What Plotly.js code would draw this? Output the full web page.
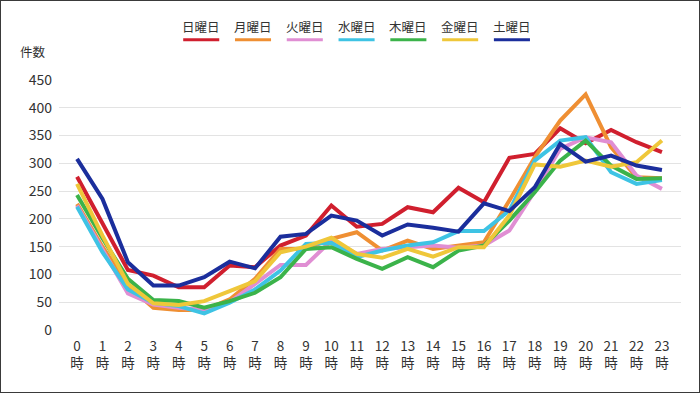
<!DOCTYPE html>
<html><head><meta charset="utf-8">
<script src="https://cdn.plot.ly/plotly-3.0.1.min.js"></script>
<style>
html,body{margin:0;padding:0;background:#fff;}
#chart{width:700px;height:393px;box-sizing:border-box;border:1px solid #3a3a3a;}
</style></head>
<body><div id="chart"></div>
<script>
const hours = ["0","1","2","3","4","5","6","7","8","9","10","11","12","13","14","15","16","17","18","19","20","21","22","23"];
const hourLabels = hours.map(h => h + "<br>時");
const days = ["日曜日","月曜日","火曜日","水曜日","木曜日","金曜日","土曜日"];
const colors = ["#d01f2e","#ef8f33","#e08ed3","#3ec3e4","#3bb34a","#efc73a","#1b2e9c"];
const sunday    = [276,192,108,98,77,77,116,113,152,170,224,186,191,221,212,256,230,310,317,363,336,360,338,320];
const monday    = [227,150,80,40,36,36,55,92,146,146,164,176,143,161,146,152,158,233,311,377,424,329,275,273];
const tuesday   = [224,145,66,46,40,36,50,83,117,117,161,137,146,149,152,148,152,179,250,326,347,338,278,254];
const wednesday = [222,140,73,49,43,30,49,73,107,155,157,131,143,152,158,178,178,215,305,341,347,284,263,270];
const thursday  = [243,165,92,54,52,40,52,67,95,146,149,128,110,131,113,143,152,197,248,305,341,296,272,273];
const friday    = [263,170,83,48,45,52,70,88,140,150,166,137,130,146,132,149,149,206,298,294,305,294,302,341];
const saturday  = [308,236,122,80,80,95,123,111,168,173,206,197,170,190,184,177,228,214,257,335,303,314,296,288];
const series = [sunday, monday, tuesday, wednesday, thursday, friday, saturday];
const yTicks = [0,50,100,150,200,250,300,350,400,450];

const font = "'Noto Sans CJK JP', 'Noto Sans', sans-serif";
const traces = series.map((vals, i) => ({
  x: hourLabels, y: vals, type: "scatter", mode: "lines", name: days[i],
  line: {color: colors[i], width: 4}, showlegend: false
}));

const annotations = days.map((d, i) => ({
  xref: "paper", yref: "paper", x: (201 + i*51.7 - 59)/621, y: 1.213,
  text: d, showarrow: false, xanchor: "center", yanchor: "middle",
  font: {family: font, size: 12.5, color: "#333"}
}));
annotations.push({xref: "paper", yref: "paper", x: (33-59)/621, y: 1.112, text: "件数",
  showarrow: false, xanchor: "center", yanchor: "middle", font: {family: font, size: 12.5, color: "#333"}});

const shapes = days.map((d, i) => {
  const cx = 201 + i*51.7;
  return {type: "line", xref: "paper", yref: "paper",
    x0: (cx - 18 - 59)/621, x1: (cx + 18 - 59)/621, y0: 1.161, y1: 1.161,
    line: {color: colors[i], width: 3}};
});

const layout = {
  width: 698, height: 391,
  margin: {l: 58, r: 18, t: 79, b: 62},
  paper_bgcolor: "#fff", plot_bgcolor: "#fff",
  font: {family: font, size: 13, color: "#333"},
  xaxis: {type: "category", range: [-0.71, 23.75], showgrid: false, zeroline: false,
    showline: false, ticks: "", ticklabelstandoff: 6,
    tickfont: {family: font, size: 13.5, color: "#333"}, tickangle: 0},
  yaxis: {range: [0, 450], tickvals: yTicks, ticktext: yTicks.map(String), showgrid: true,
    gridcolor: "#e3e3e3", gridwidth: 1, zeroline: false, showline: false, ticks: "",
    ticklabelstandoff: 6, tickfont: {family: font, size: 14, color: "#333"}},
  annotations: annotations, shapes: shapes
};
Plotly.newPlot("chart", traces, layout, {displayModeBar: false, staticPlot: true});
</script></body></html>
